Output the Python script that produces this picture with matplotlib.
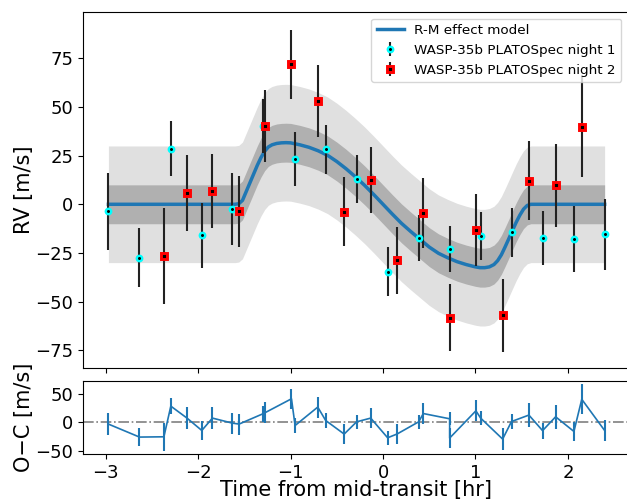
import matplotlib
matplotlib.use("Agg")
import matplotlib.pyplot as plt
import numpy as np

# night 1 (cyan circles)
t1 = [-2.97, -2.634, -2.295, -1.96, -1.63, -1.30, -0.951, -0.62, -0.285,
      0.05, 0.386, 0.721, 1.056, 1.39, 1.726, 2.065, 2.397]
rv1 = [-3.7, -27.4, 28.6, -16.0, -2.4, 40.2, 23.4, 28.4, 12.8,
       -34.7, -17.5, -22.9, -16.4, -14.4, -17.4, -17.8, -15.5]
err1 = [20.0, 15.2, 14.0, 16.8, 18.6, 14.0, 14.0, 12.6, 12.3,
        12.7, 11.8, 11.7, 12.3, 12.7, 13.8, 16.8, 18.2]
oc1 = [-3.5, -26.3, 28.0, -14.7, -1.8, 14.5, -6.0, 2.8, 0.5,
       -27.5, 0.5, 5.8, 7.0, 1.0, -15.0, -16.4, -14.7]

# night 2 (red squares)
t2 = [-2.37, -2.12, -1.845, -1.557, -1.276, -0.99, -0.706, -0.42, -0.133,
      0.151, 0.436, 0.721, 1.005, 1.294, 1.578, 1.867, 2.15]
rv2 = [-26.5, 5.8, 7.0, -3.7, 40.3, 71.9, 53.2, -3.9, 12.7,
       -28.9, -4.4, -58.3, -13.0, -57.1, 12.1, 9.7, 40.0]
err2 = [24.8, 19.7, 19.0, 18.3, 18.5, 17.8, 18.4, 17.8, 17.0,
        17.0, 18.0, 17.4, 18.5, 18.8, 20.4, 21.4, 26.0]
oc2 = [-25.8, 7.0, 7.0, -3.5, 16.5, 40.9, 26.3, -21.0, 7.0,
       -21.0, 15.0, -28.0, 19.8, -29.8, 12.3, 9.3, 40.0]

# R-M model curve
model_t = [-2.97, -1.60, -1.56, -1.52, -1.48, -1.44, -1.40, -1.36, -1.32, -1.28,
           -1.24, -1.20, -1.15, -1.10, -1.05, -1.00, -0.90, -0.80, -0.70, -0.60,
           -0.50, -0.40, -0.30, -0.20, -0.10, 0.00, 0.10, 0.20, 0.30, 0.40,
           0.50, 0.60, 0.70, 0.80, 0.90, 1.00, 1.05, 1.10, 1.15, 1.20,
           1.24, 1.28, 1.32, 1.36, 1.40, 1.44, 1.48, 1.52, 1.56, 1.60, 2.397]
model_rv = [0.0, 0.0, 0.3, 2.0, 6.5, 11.0, 15.5, 20.0, 24.0, 27.3,
            29.5, 30.6, 31.3, 31.6, 31.7, 31.6, 30.6, 29.3, 27.5, 25.2,
            22.0, 18.3, 14.2, 9.8, 5.0, 0.0, -5.0, -9.8, -14.0, -18.0,
            -22.0, -25.2, -27.5, -29.5, -31.0, -32.2, -32.6, -32.6, -32.2, -31.0,
            -29.0, -26.0, -22.0, -17.8, -13.5, -9.3, -5.6, -2.5, -0.6, 0.0, 0.0]
jitter_inner = 10.0
jitter_outer = 30.0


def main():
  fig = plt.figure(figsize=(6.27, 4.99), dpi=100)
  ax = fig.add_axes([83 / 627, 1 - 368 / 499, 545 / 627, 356 / 499])
  ax2 = fig.add_axes([83 / 627, 1 - 454 / 499, 545 / 627, 73.5 / 499])

  mt = np.array(model_t)
  mrv = np.array(model_rv)
  ax.fill_between(mt, mrv - jitter_outer, mrv + jitter_outer, color="#e0e0e0", lw=0, zorder=1)
  ax.fill_between(mt, mrv - jitter_inner, mrv + jitter_inner, color="#b0b0b0", lw=0, zorder=2)
  ax.plot(mt, mrv, color="#1f77b4", lw=2.5, zorder=3, label="R-M effect model")

  ax.errorbar(t1, rv1, yerr=err1, fmt="o", ms=3.9, mfc="k", mec="cyan", mew=1.7,
              ecolor="#222222", elinewidth=1.5, zorder=5,
              label="WASP-35b PLATOSpec night 1")
  ax.errorbar(t2, rv2, yerr=err2, fmt="s", ms=4.4, mfc="k", mec="red", mew=2.1,
              ecolor="#222222", elinewidth=1.5, zorder=5,
              label="WASP-35b PLATOSpec night 2")

  ax.set_xlim(-3.245, 2.65)
  ax.set_ylim(-84.2, 98.9)
  ax.set_yticks([-75, -50, -25, 0, 25, 50, 75])
  ax.set_xticks([-3, -2, -1, 0, 1, 2])
  ax.tick_params(labelbottom=False, labelsize=13)
  ax.set_ylabel("RV [m/s]", fontsize=15, labelpad=1)
  ax.legend(loc="upper right", fontsize=9.7)

  # residuals, both nights together in time order
  t_all = np.concatenate([t1, t2])
  order = np.argsort(t_all, kind="stable")
  oc_all = np.concatenate([oc1, oc2])[order]
  err_all = np.concatenate([err1, err2])[order]
  ax2.errorbar(t_all[order], oc_all, yerr=err_all, color="#1f77b4", lw=1.2,
               elinewidth=1.5)
  ax2.axhline(0, color="gray", ls="-.", lw=1.2, zorder=0)
  ax2.set_xlim(-3.245, 2.65)
  ax2.set_ylim(-56, 73)
  ax2.set_yticks([-50, 0, 50])
  ax2.set_xticks([-3, -2, -1, 0, 1, 2])
  ax2.tick_params(labelsize=13)
  ax2.set_ylabel("O\u2212C [m/s]", fontsize=15, labelpad=1)
  ax2.set_xlabel("Time from mid-transit [hr]", fontsize=15, labelpad=-1)
  fig.align_ylabels([ax, ax2])

  fig.savefig("out.png", dpi=100)


if __name__ == "__main__":
  main()
